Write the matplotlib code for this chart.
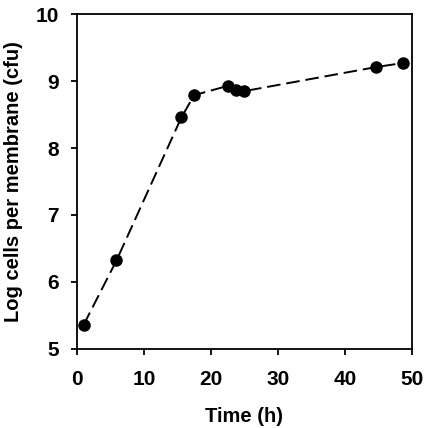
import matplotlib
matplotlib.use("Agg")
import matplotlib.pyplot as plt

time_h = [1.0, 5.9, 15.6, 17.5, 22.6, 23.8, 25.0, 44.7, 48.7]
log_cells = [5.36, 6.32, 8.46, 8.79, 8.93, 8.87, 8.85, 9.21, 9.27]
x_ticks = [0, 10, 20, 30, 40, 50]
y_ticks = [5, 6, 7, 8, 9, 10]

plt.rcParams['font.family'] = ['Liberation Sans', 'DejaVu Sans']
fig = plt.figure(figsize=(4.30, 4.28), dpi=100)
ax = fig.add_axes([0.179, 0.185, 0.779, 0.782])
ax.plot(time_h, log_cells, color='black', linestyle=(0, (7, 3)), linewidth=1.4,
        marker='o', markersize=8, markerfacecolor='black', markeredgecolor='black')
ax.set_xlim(0, 50)
ax.set_ylim(5, 10)
ax.set_xticks(x_ticks)
ax.set_yticks(y_ticks)
ax.tick_params(direction='out', length=4, width=1.3, labelsize=15)
ax.tick_params(axis='y', pad=9)
ax.tick_params(axis='x', pad=11)
for lbl in ax.get_xticklabels() + ax.get_yticklabels():
    lbl.set_fontweight('bold')
for s in ax.spines.values():
    s.set_linewidth(1.3)
ax.set_xlabel('Time (h)', fontsize=14.5, fontweight='bold', labelpad=13)
ax.set_ylabel('Log cells per membrane (cfu)', fontsize=14.5, fontweight='bold', labelpad=9)
fig.savefig('out.png', dpi=100)
